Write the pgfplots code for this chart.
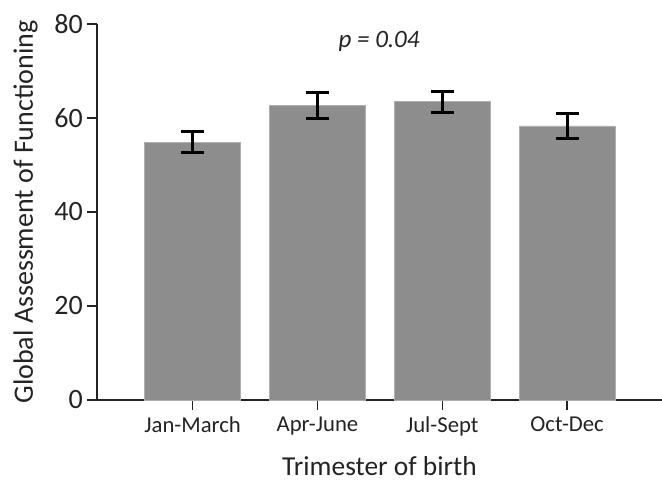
\documentclass[border=0pt]{standalone}
\usepackage{pgfplots}
\pgfplotsset{compat=1.18}
\usepackage{fontspec}
\setmainfont{Carlito}
\definecolor{barfill}{RGB}{141,141,141}
\definecolor{baredge}{RGB}{175,175,175}
\definecolor{axcol}{RGB}{35,35,35}
\begin{document}
\begin{tikzpicture}[x=1pt,y=1pt]
\useasboundingbox (-97,-81) rectangle (565,400);
\begin{axis}[
  at={(0,0)}, anchor=south west,
  scale only axis, width=565pt, height=376pt,
  xmin=0.234, xmax=4.76, ymin=0, ymax=80,
  axis x line*=bottom, axis y line*=left,
  xtick={1,2,3,4},
  xticklabels={Jan-March,Apr-June,Jul-Sept,Oct-Dec},
  ytick={0,20,40,60,80},
  minor tick num=0,
  tick align=outside, major tick length=10pt,
  axis line style={line width=1.5pt, axcol},
  every tick/.style={line width=1.5pt, axcol},
  /pgf/number format/assume math mode=true,
  xticklabel style={font=\fontsize{22.7}{26}\selectfont, inner sep=0pt, yshift=-7pt, text=axcol},
  yticklabel style={font=\fontsize{28}{32}\selectfont, inner sep=0pt, xshift=-4pt, text=axcol},
  ylabel={Global Assessment of Functioning},
  ylabel style={font=\fontsize{28}{32}\selectfont, at={(axis description cs:-0.1133,0.5)}, anchor=base, text=axcol},
  xlabel={Trimester of birth},
  xlabel style={font=\fontsize{27.4}{32}\selectfont, at={(axis description cs:0.5,-0.200)}, anchor=base, text=axcol},
  ybar, bar width=0.768,
  clip=false,
]
\addplot[fill=barfill, draw=baredge, line width=0.8pt,
  error bars/.cd, y dir=both, y explicit,
  error bar style={line width=3.2pt, black},
  error mark options={line width=3.2pt, black, mark size=11.5pt, rotate=90}]
  coordinates {
  (1,54.85) +- (0,2.25)
  (2,62.7) +- (0,2.8)
  (3,63.45) +- (0,2.25)
  (4,58.3) +- (0,2.7)
};
\node[font=\itshape\fontsize{25}{28}\selectfont, anchor=base, text=axcol] at (axis cs:2.494,75.1) {p = 0.04};
\end{axis}
\end{tikzpicture}
\end{document}
